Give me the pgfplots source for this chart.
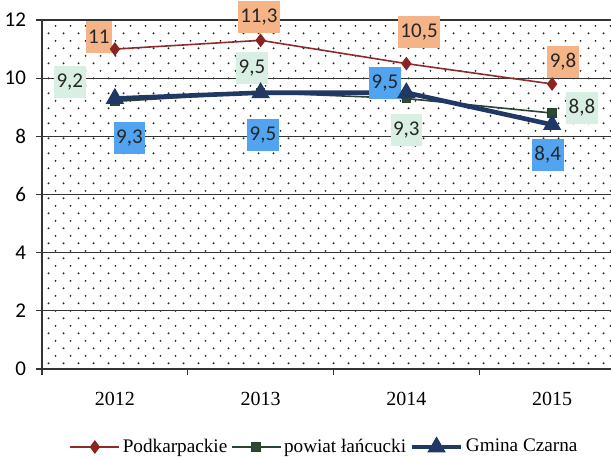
\documentclass[border=0pt]{standalone}
\usepackage{pgfplots}
\pgfplotsset{compat=1.18}
\usepackage{fontspec}
\setmainfont{Liberation Serif}
\newfontfamily\calib{Carlito}
\usetikzlibrary{patterns.meta}
\tikzdeclarepattern{
  name=sdots, type=uncolored,
  bottom left={(0pt,0pt)}, top right={(7.5pt,7.7pt)}, tile size={(7.5pt,7.7pt)},
  code={\fill (1.875pt,1.925pt) circle (0.55pt); \fill (5.625pt,5.775pt) circle (0.55pt);}
}
\definecolor{pkline}{HTML}{8E2A2A}
\definecolor{pkmark}{HTML}{8B2323}
\definecolor{pwline}{HTML}{2A4430}
\definecolor{pwmark}{HTML}{2E4A32}
\definecolor{gmline}{HTML}{1F3864}
\definecolor{lborange}{HTML}{F5B487}
\definecolor{lbmint}{HTML}{D9EFE3}
\definecolor{lbblue}{HTML}{52A4F0}
\tikzset{lbl/.style={font=\calib\fontsize{10.5}{12}\selectfont, text=black!85, inner xsep=1.3pt, inner ysep=0pt, minimum height=16pt}}
\begin{document}
\begin{tikzpicture}
\begin{axis}[
  scale only axis, width=284.5pt, height=174.5pt,
  xmin=-0.5, xmax=3.404, ymin=0, ymax=12,
  axis x line*=bottom, axis y line*=left,
  xtick={0,1,2,3}, xticklabels={2012,2013,2014,2015},
  minor xtick={-0.5,0.5,1.5,2.5},
  ytick={0,2,...,12},
  ymajorgrids, grid style={black!80, line width=0.6pt},
  tick align=outside,
  major x tick style={draw=none},
  minor x tick style={black!80, line width=0.6pt},
  minor tick length=3pt, major tick length=3pt,
  ytick style={black!80, line width=0.6pt},
  /pgf/number format/assume math mode=true,
  y tick label style={font=\calib\fontsize{10.5}{12}\selectfont, xshift=-1.5pt},
  x tick label style={font=\fontsize{10}{12}\selectfont, yshift=-5pt},
  axis line style={black!80, line width=0.8pt},
  axis background/.style={preaction={fill=white}, pattern=sdots, pattern color=black!85},
  clip=false,
  legend columns=3,
  legend style={at={(0.497,-0.2235)}, anchor=center, draw=none, fill=none,
    font=\fontsize{9.6}{12}\selectfont, nodes={inner sep=1.3pt},
    /tikz/every even column/.append style={column sep=0.5pt}},
  legend image code/.code={\draw[mark repeat=2,mark phase=2,#1] plot coordinates {(0pt,0pt) (12.25pt,0pt) (24.5pt,0pt)};},
]
\addplot[color=pkline, line width=0.8pt, mark=diamond*, mark size=2.8pt, mark options={fill=pkmark, draw=pkmark, solid}]
  coordinates {(0,11) (1,11.3) (2,10.5) (3,9.8)};
\addlegendentry{Podkarpackie}
\addplot[color=pwline, line width=0.8pt, mark=square*, mark size=2pt, mark options={fill=pwmark, draw=pwline, solid}]
  coordinates {(0,9.2) (1,9.5) (2,9.3) (3,8.8)};
\addlegendentry{powiat łańcucki}
\addplot[color=gmline, line width=2.3pt, mark=triangle*, mark size=4.8pt, mark options={fill=gmline, draw=gmline, line width=0.5pt, solid}]
  coordinates {(0,9.3) (1,9.5) (2,9.5) (3,8.4)};
\addlegendentry{Gmina Czarna}
% data labels
\node[lbl, fill=lborange] at (axis cs:-0.11,11.42) {11};
\node[lbl, fill=lborange] at (axis cs:0.988,12.10) {11,3};
\node[lbl, fill=lborange] at (axis cs:2.087,11.59) {10,5};
\node[lbl, fill=lborange] at (axis cs:3.075,10.56) {9,8};
\node[lbl, fill=lbmint] at (axis cs:-0.309,9.87) {9,2};
\node[lbl, fill=lbmint] at (axis cs:0.94,10.35) {9,5};
\node[lbl, fill=lbmint] at (axis cs:2.0,8.22) {9,3};
\node[lbl, fill=lbmint] at (axis cs:3.205,8.98) {8,8};
\node[lbl, fill=lbblue] at (axis cs:0.10,7.94) {9,3};
\node[lbl, fill=lbblue] at (axis cs:1.016,8.05) {9,5};
\node[lbl, fill=lbblue] at (axis cs:1.853,9.83) {9,5};
\node[lbl, fill=lbblue] at (axis cs:2.97,7.36) {8,4};
\end{axis}
\pgfresetboundingbox
\useasboundingbox (-21pt,-45pt) rectangle (284.5pt,184.5pt);
\end{tikzpicture}
\end{document}
